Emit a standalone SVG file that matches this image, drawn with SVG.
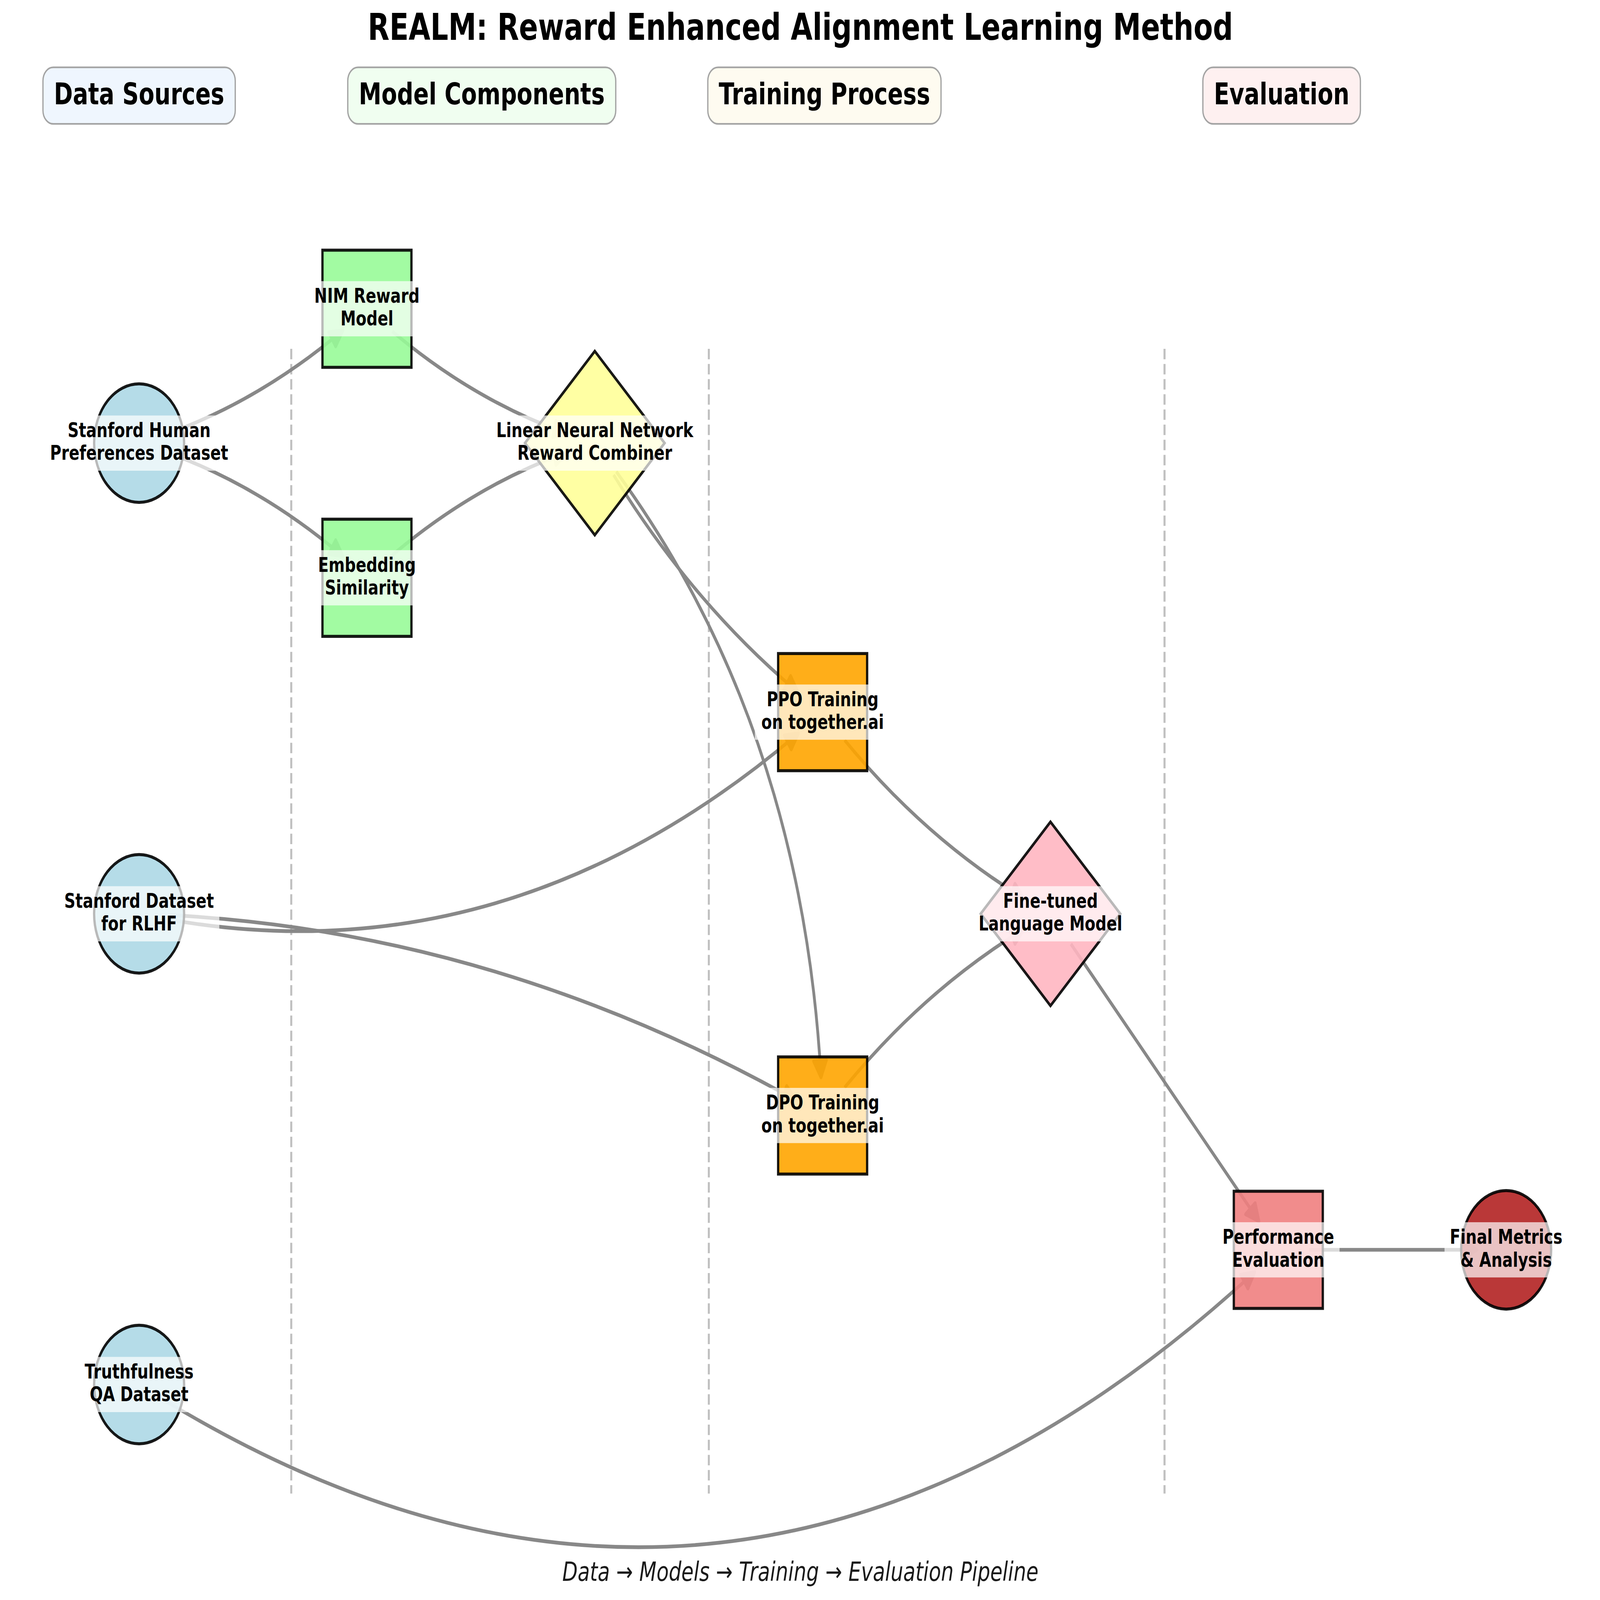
<svg xmlns="http://www.w3.org/2000/svg" width="6257" height="4752" viewBox="0 0 6257 4752" preserveAspectRatio="none">
<style>
:root{width:100vw;height:100vh}
text{font-family:"DejaVu Sans","Liberation Sans",sans-serif;fill:#000}
.title{font-size:110px;font-weight:bold;text-anchor:middle}
.hdr{font-size:89px;font-weight:bold;text-anchor:middle}
.hbox{stroke:#a4a4a4;stroke-width:5}
.foot{font-size:78px;font-style:italic;text-anchor:middle;fill:#1a1a1a}
.sep{stroke:#c0c0c0;stroke-width:8;stroke-dasharray:31 14;fill:none}
.edge{fill:none;stroke:#888;stroke-width:11;marker-end:url(#ah)}
.node{stroke:#000;stroke-opacity:0.9;stroke-width:9;fill-opacity:0.9}
.band{fill:#fff;fill-opacity:0.7}
.lbl{font-size:60.5px;font-weight:bold;text-anchor:middle}
</style>
<defs>
<marker id="ah" markerUnits="userSpaceOnUse" markerWidth="80" markerHeight="80" refX="44" refY="0" orient="auto" overflow="visible">
<path d="M0,-25 L50,0 L0,25 Z" fill="#888" stroke="#888" stroke-width="11" stroke-linejoin="round"/>
</marker>
</defs>
<rect width="6257" height="4752" fill="#fff"/>
<text class="title" x="3130" y="118">REALM: Reward Enhanced Alignment Learning Method</text>
<g id="headers">
<rect class="hbox" x="168" y="200" width="752" height="168" rx="40" fill="#eff6fe"/>
<text class="hdr" x="544" y="310">Data Sources</text>
<rect class="hbox" x="1360" y="200" width="1048" height="168" rx="40" fill="#f0fef0"/>
<text class="hdr" x="1884" y="310">Model Components</text>
<rect class="hbox" x="2768" y="200" width="912" height="168" rx="40" fill="#fefbf0"/>
<text class="hdr" x="3224" y="310">Training Process</text>
<rect class="hbox" x="4704" y="200" width="616" height="168" rx="40" fill="#fef0f0"/>
<text class="hdr" x="5012" y="310">Evaluation</text>
</g>
<g id="separators">
<line class="sep" x1="1139" y1="1036" x2="1139" y2="4436"/>
<line class="sep" x1="2772" y1="1036" x2="2772" y2="4436"/>
<line class="sep" x1="4554" y1="1036" x2="4554" y2="4436"/>
</g>
<g id="connectors">
<path class="edge" d="M659.9,1286.8 Q1020.9,1186.7 1336.1,984"/>
<path class="edge" d="M659.9,1345.3 Q1021,1445.8 1336.1,1648.9"/>
<path class="edge" d="M1533.9,984 Q1849.1,1186.7 2210.1,1285.8"/>
<path class="edge" d="M1533.9,1648.9 Q1849,1445.8 2210.1,1345.3"/>
<path class="edge" d="M2399.4,1410.3 Q2705.8,1788.8 3115.2,2052.3"/>
<path class="edge" d="M2410,1400.5 Q3132.3,2153.5 3210.2,3194"/>
<path class="edge" d="M662,2731.3 Q1991,2907.4 3117.6,2181.1"/>
<path class="edge" d="M663.7,2717.7 Q1935.5,2768.2 3107.1,3265.3"/>
<path class="edge" d="M3303,2198.1 Q3614.3,2486.2 3998.6,2665.7"/>
<path class="edge" d="M3303,3229.9 Q3614.3,2941.8 3998.6,2762.3"/>
<path class="edge" d="M4187.9,2803.5 L4919.1,3622.5"/>
<path class="edge" d="M651.9,4162.9 Q2886.1,5188.4 4901.9,3781.3"/>
<path class="edge" d="M5119,3712 L5770,3712"/>
</g>
<g id="node-shp">
<circle class="node" cx="544" cy="1316" r="176" fill="#ADD8E6"/>
<rect class="band" x="174.5" y="1234" width="739" height="164"/>
<text class="lbl" y="1298"><tspan x="544">Stanford Human</tspan><tspan x="544" dy="68">Preferences Dataset</tspan></text>
</g>
<g id="node-rlhf">
<circle class="node" cx="544" cy="2714" r="176" fill="#ADD8E6"/>
<rect class="band" x="230.5" y="2632" width="627" height="164"/>
<text class="lbl" y="2696"><tspan x="544">Stanford Dataset</tspan><tspan x="544" dy="68">for RLHF</tspan></text>
</g>
<g id="node-truth">
<circle class="node" cx="544" cy="4112" r="176" fill="#ADD8E6"/>
<rect class="band" x="307" y="4030" width="474" height="164"/>
<text class="lbl" y="4094"><tspan x="544">Truthfulness</tspan><tspan x="544" dy="68">QA Dataset</tspan></text>
</g>
<g id="node-nim">
<rect class="node" x="1261" y="743" width="348" height="348" fill="#98FB98"/>
<rect class="band" x="1208" y="835" width="454" height="164"/>
<text class="lbl" y="899"><tspan x="1435">NIM Reward</tspan><tspan x="1435" dy="68">Model</tspan></text>
</g>
<g id="node-emb">
<rect class="node" x="1261" y="1542" width="348" height="348" fill="#98FB98"/>
<rect class="band" x="1222.5" y="1634" width="425" height="164"/>
<text class="lbl" y="1698"><tspan x="1435">Embedding</tspan><tspan x="1435" dy="68">Similarity</tspan></text>
</g>
<g id="node-lnn">
<polygon class="node" points="2326,1043 2599,1316 2326,1589 2053,1316" fill="#FFFF99" stroke-linejoin="miter"/>
<rect class="band" x="1920" y="1234" width="812" height="164"/>
<text class="lbl" y="1298"><tspan x="2326">Linear Neural Network</tspan><tspan x="2326" dy="68">Reward Combiner</tspan></text>
</g>
<g id="node-ppo">
<rect class="node" x="3043" y="1941" width="348" height="348" fill="#FFA500"/>
<rect class="band" x="2952" y="2033" width="530" height="164"/>
<text class="lbl" y="2097"><tspan x="3217">PPO Training</tspan><tspan x="3217" dy="68">on together.ai</tspan></text>
</g>
<g id="node-dpo">
<rect class="node" x="3043" y="3139" width="348" height="348" fill="#FFA500"/>
<rect class="band" x="2952" y="3231" width="530" height="164"/>
<text class="lbl" y="3295"><tspan x="3217">DPO Training</tspan><tspan x="3217" dy="68">on together.ai</tspan></text>
</g>
<g id="node-ft">
<polygon class="node" points="4108,2441 4381,2714 4108,2987 3835,2714" fill="#FFB6C1" stroke-linejoin="miter"/>
<rect class="band" x="3806" y="2632" width="604" height="164"/>
<text class="lbl" y="2696"><tspan x="4108">Fine-tuned</tspan><tspan x="4108" dy="68">Language Model</tspan></text>
</g>
<g id="node-perf">
<rect class="node" x="4825" y="3538" width="348" height="348" fill="#F08080"/>
<rect class="band" x="4759.5" y="3630" width="479" height="164"/>
<text class="lbl" y="3694"><tspan x="4999">Performance</tspan><tspan x="4999" dy="68">Evaluation</tspan></text>
</g>
<g id="node-final">
<circle class="node" cx="5890" cy="3712" r="176" fill="#B22222"/>
<rect class="band" x="5649" y="3630" width="482" height="164"/>
<text class="lbl" y="3694"><tspan x="5890">Final Metrics</tspan><tspan x="5890" dy="68">&amp; Analysis</tspan></text>
</g>
<text class="foot" x="3130" y="4695">Data → Models → Training → Evaluation Pipeline</text>
</svg>
